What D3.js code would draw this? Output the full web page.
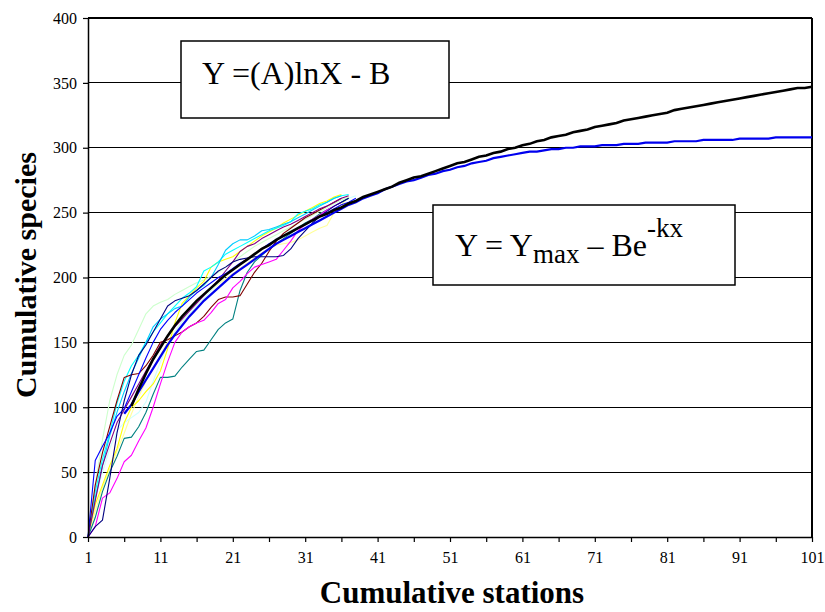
<!DOCTYPE html>
<html>
<head>
<meta charset="utf-8">
<script src="https://cdn.jsdelivr.net/npm/d3@7"></script>
<style>
  html, body { margin: 0; padding: 0; background: #fff; }
  svg { display: block; }
  text { font-family: "Liberation Serif", "Times New Roman", serif; fill: #000; }
</style>
</head>
<body>
<svg id="chart" width="825" height="612"></svg>
<script>
/* Cumulative species vs cumulative stations */

// Tick labels
let xTickLabels = [1, 11, 21, 31, 41, 51, 61, 71, 81, 91, 101];
let yTickLabels = [0, 50, 100, 150, 200, 250, 300, 350, 400];

// Individual station-order runs (value at station 1, 2, 3, ...)
let navyRun = [0, 8, 13, 45, 80, 105, 125, 140, 148, 158, 168, 178, 182, 184, 186, 190, 195, 200, 205, 208, 212, 214, 215, 216, 216, 216, 216, 217, 222, 230, 236, 242, 247, 251, 255, 258, 261];
let magentaRun = [0, 8, 30, 34, 45, 58, 63, 74, 84, 100, 118, 135, 150, 158, 162, 165, 167, 173, 180, 183, 192, 197, 203, 208, 210, 212, 214, 221, 228, 236, 241, 245, 248, 252, 255, 258];
let yellowRun = [0, 25, 40, 55, 68, 88, 100, 105, 112, 118, 128, 145, 165, 180, 186, 192, 197, 208, 212, 214, 216, 220, 224, 228, 232, 235, 238, 242, 245, 248, 251, 254, 257, 259, 262, 264];
let cyanRun = [0, 35, 60, 80, 103, 120, 132, 140, 150, 158, 165, 172, 178, 184, 188, 193, 205, 208, 212, 218, 221, 224, 227, 230, 233, 236, 238, 240, 243, 249, 251, 253, 256, 258, 261, 263, 264];
let purpleRun = [0, 28, 55, 72, 88, 98, 108, 118, 128, 138, 148, 155, 162, 168, 174, 180, 186, 192, 198, 205, 212, 220, 224, 226, 230, 233, 236, 239, 241, 244, 247, 250, 253, 255, 258, 261, 263];
let darkRedRun = [0, 40, 65, 85, 105, 123, 125, 126, 132, 140, 150, 152, 155, 158, 162, 165, 170, 177, 183, 185, 185, 186, 195, 204, 211, 220, 228, 234, 238, 242, 246, 249, 252, 255, 258, 261];
let tealRun = [0, 15, 35, 50, 62, 76, 77, 85, 96, 110, 123, 123, 124, 131, 137, 143, 144, 152, 160, 165, 168, 190, 204, 212, 217, 222, 226, 230, 234, 238, 242, 245, 249, 252, 255, 258, 261];
let blueRun = [0, 59, 70, 80, 93, 99, 112, 125, 138, 150, 160, 167, 173, 178, 183, 188, 192, 196, 200, 203, 207, 211, 214, 218, 222, 226, 229, 232, 235, 238, 241, 244, 247, 250, 253, 256, 258, 261];
let skyBlueRun = [0, 30, 55, 78, 96, 112, 126, 138, 150, 162, 168, 172, 176, 178, 185, 190, 194, 200, 210, 221, 226, 229, 229, 232, 236, 237, 239, 241, 243, 246, 249, 252, 255, 258, 261, 263];
let paleTurquoiseRun = [0, 30, 50, 68, 82, 88, 92, 96, 104, 120, 135, 148, 158, 166, 172, 178, 184, 190, 196, 201, 206, 210, 214, 218, 222, 226, 230, 233, 236, 239, 242, 245, 249, 252, 255, 258, 261, 263];
let paleGreenRun = [0, 40, 75, 105, 125, 140, 148, 160, 172, 178, 181, 183, 187, 190, 193, 196, 198, 201, 204, 208, 212, 216, 220, 224, 227, 230, 233, 236, 239, 242, 245, 248, 251, 254, 257, 260, 262];
let paleYellowRun = [0, 20, 38, 52, 66, 80, 95, 108, 120, 130, 140, 150, 158, 166, 172, 178, 184, 190, 195, 199, 203, 207, 211, 215, 219, 222, 225, 226, 227, 229, 232, 235, 238, 240, 250, 256, 262];

// Logarithmic fit, Y = (A)lnX - B, from station 7
let logFitStart = 7;
let logFit = [101, 114, 126, 137, 146, 155, 163, 170, 176, 182, 187, 192, 197, 202, 206, 210, 214, 218, 222, 225,
  229, 232, 235, 238, 241, 244, 247, 249, 252, 254, 257, 259, 262, 264, 266, 268, 270, 273, 275, 277,
  278, 280, 282, 284, 286, 288, 289, 291, 293, 294, 296, 297, 299, 300, 302, 303, 305, 306, 308, 309,
  310, 312, 313, 314, 316, 317, 318, 319, 321, 322, 323, 324, 325, 326, 327, 329, 330, 331, 332, 333,
  334, 335, 336, 337, 338, 339, 340, 341, 342, 343, 344, 345, 346, 346, 347];

// Asymptotic fit, Y = Ymax - Be^-kx, from station 6
let expFitStart = 6;
let expFit = [95, 102, 112, 121, 130, 139, 148, 156, 163, 170, 176, 182, 187, 192, 197, 202,
  206, 210, 214, 218, 222, 226, 229, 232, 235, 238, 241, 244, 247, 250, 253, 256, 258, 261, 263, 265,
  268, 270, 272, 274, 275, 277, 279, 280, 282, 283, 285, 286, 288, 289, 290, 292, 293, 294, 295, 296,
  297, 297, 298, 299, 299, 300, 300, 301, 301, 301, 302, 302, 302, 303, 303, 303, 304, 304, 304, 304,
  305, 305, 305, 305, 306, 306, 306, 306, 306, 307, 307, 307, 307, 307, 308, 308, 308, 308, 308, 308];

// Series colours (Excel default line palette)
let runs = [
  { values: paleGreenRun, color: "#ccffcc" },
  { values: paleYellowRun, color: "#ffff99" },
  { values: paleTurquoiseRun, color: "#ccffff" },
  { values: yellowRun, color: "#ffff00" },
  { values: cyanRun, color: "#00ffff" },
  { values: skyBlueRun, color: "#00ccff" },
  { values: tealRun, color: "#008080" },
  { values: darkRedRun, color: "#800000" },
  { values: magentaRun, color: "#ff00ff" },
  { values: purpleRun, color: "#800080" },
  { values: blueRun, color: "#0000ff" },
  { values: navyRun, color: "#000080" }
];

let svg = d3.select("#chart");

let x = d3.scaleLinear().domain([1, 101]).range([88, 812]);
let y = d3.scaleLinear().domain([0, 400]).range([537, 18]);

// Horizontal gridlines
svg.append("g")
  .selectAll("line")
  .data(yTickLabels.slice(1))
  .enter()
  .append("line")
  .attr("x1", x(1))
  .attr("x2", x(101))
  .attr("y1", d => y(d))
  .attr("y2", d => y(d))
  .attr("stroke", "#000")
  .attr("stroke-width", 1.2)
  .attr("shape-rendering", "crispEdges");

// Right border
svg.append("line")
  .attr("x1", x(101)).attr("x2", x(101))
  .attr("y1", y(400)).attr("y2", y(0))
  .attr("stroke", "#000")
  .attr("stroke-width", 1.2)
  .attr("shape-rendering", "crispEdges");

let line = d3.line()
  .x(d => x(d[0]))
  .y(d => y(d[1]));

let toPoints = function (values, start) {
  return values.map((v, i) => [start + i, v]);
};

// Individual runs
svg.append("g")
  .selectAll("path")
  .data(runs)
  .enter()
  .append("path")
  .attr("d", d => line(toPoints(d.values, 1)))
  .attr("fill", "none")
  .attr("stroke", d => d.color)
  .attr("stroke-width", 1.1)
  .attr("stroke-linejoin", "round");

// Fitted curves
svg.append("path")
  .attr("d", line(toPoints(expFit, expFitStart)))
  .attr("fill", "none")
  .attr("stroke", "#0000ee")
  .attr("stroke-width", 2.2);

svg.append("path")
  .attr("d", line(toPoints(logFit, logFitStart)))
  .attr("fill", "none")
  .attr("stroke", "#000")
  .attr("stroke-width", 2.6);

// Axes
let xAxis = d3.axisBottom(x)
  .tickValues(d3.range(1, 102, 5))
  .tickSize(5)
  .tickSizeOuter(0)
  .tickFormat(d => xTickLabels.includes(d) ? d : "");

let gx = svg.append("g")
  .attr("transform", "translate(0," + y(0) + ")")
  .call(xAxis);
gx.select(".domain").attr("stroke-width", 1.5);
gx.selectAll(".tick line").attr("stroke-width", 1.2);
gx.selectAll("text")
  .style("font-family", "'Liberation Serif', serif")
  .style("font-size", "16px")
  .attr("dy", 0)
  .attr("y", 26);

let yAxis = d3.axisLeft(y)
  .tickValues(yTickLabels)
  .tickSize(5)
  .tickSizeOuter(0);

let gy = svg.append("g")
  .attr("transform", "translate(" + x(1) + ",0)")
  .call(yAxis);
gy.select(".domain").attr("stroke-width", 1.5);
gy.selectAll(".tick line").attr("stroke-width", 1.2);
gy.selectAll("text")
  .style("font-family", "'Liberation Serif', serif")
  .style("font-size", "16px")
  .attr("x", -11);

// Equation boxes
let box1 = svg.append("g");
box1.append("rect")
  .attr("x", 181).attr("y", 41)
  .attr("width", 268).attr("height", 77)
  .attr("fill", "#fff")
  .attr("stroke", "#000")
  .attr("stroke-width", 1.5);
box1.append("text")
  .attr("x", 202).attr("y", 84)
  .style("font-size", "32px")
  .text("Y =(A)lnX - B");

let box2 = svg.append("g");
box2.append("rect")
  .attr("x", 433).attr("y", 205)
  .attr("width", 302).attr("height", 80)
  .attr("fill", "#fff")
  .attr("stroke", "#000")
  .attr("stroke-width", 1.5);
let eq2 = box2.append("text")
  .attr("x", 455).attr("y", 256)
  .style("font-size", "32px");
eq2.append("tspan").text("Y = Y");
eq2.append("tspan").attr("dy", 7).style("font-size", "27px").text("max");
eq2.append("tspan").attr("dy", -7).text(" \u2013 Be");
eq2.append("tspan").attr("dy", -19).style("font-size", "27px").text("-kx");

// Axis titles
svg.append("text")
  .attr("x", 452).attr("y", 603)
  .attr("text-anchor", "middle")
  .style("font-size", "31px")
  .style("font-weight", "bold")
  .text("Cumulative stations");

svg.append("text")
  .attr("transform", "translate(36,275) rotate(-90)")
  .attr("text-anchor", "middle")
  .style("font-size", "30px")
  .style("font-weight", "bold")
  .text("Cumulative species");
</script>
</body>
</html>
